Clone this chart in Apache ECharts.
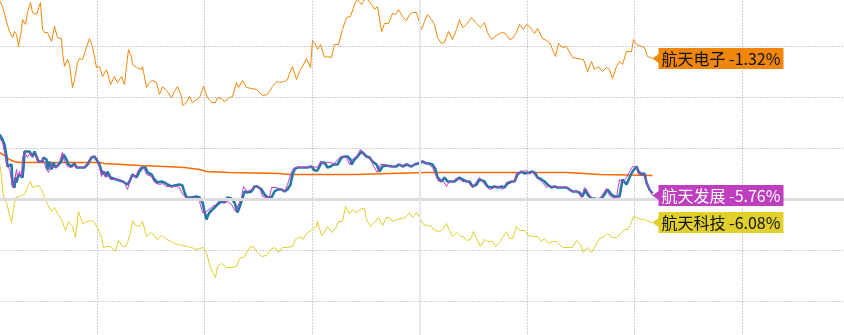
<!DOCTYPE html>
<html><head><meta charset="utf-8">
<script src="https://cdn.jsdelivr.net/npm/echarts@6/dist/echarts.min.js"></script>
<style>html,body{margin:0;padding:0;background:#fff;}#c{width:844px;height:335px;}</style>
</head><body><div id="c"></div>
<script>
// x: intraday time index (860 units per session, 8 grid slots), y: relative move (0 = prior close)
const stockNames = ['航天电子', '航天发展', '航天科技'];
const pctLabels = ['-1.32%', '-5.76%', '-6.08%'];

const dianzi = [[10,199],[13,193],[17,178],[20,168],[23,162],[25,168],[27,165],[29,153],[32,170],[33,180],[36,175],[38,187],[41,197],[43,187],[47,185],[48,187],[51,197],[53,170],[55,167],[58,167],[62,158],[65,173],[68,162],[72,161],[73,147],[75,133],[78,140],[80,135],[83,112],[85,120],[88,137],[90,141],[93,140],[97,152],[100,161],[103,153],[107,132],[110,133],[113,123],[117,130],[118,132],[121,115],[125,123],[128,117],[132,123],[135,115],[137,133],[139,150],[142,142],[143,135],[147,132],[152,130],[153,133],[157,112],[160,117],[163,119],[167,117],[170,105],[173,113],[177,109],[182,102],[185,108],[188,113],[192,103],[193,94],[197,97],[200,103],[203,97],[207,100],[210,102],[214,113],[218,102],[222,97],[226,97],[228,102],[232,101],[235,98],[240,102],[243,103],[247,117],[249,112],[253,119],[257,112],[262,111],[267,110],[273,104],[278,105],[283,113],[287,118],[290,117],[295,118],[298,120],[300,126],[303,133],[307,120],[310,128],[313,133],[317,141],[321,132],[323,159],[326,155],[328,150],[331,155],[335,142],[338,143],[342,142],[345,155],[349,155],[353,170],[357,182],[361,183],[365,195],[368,200],[372,195],[375,200],[378,200],[382,195],[385,190],[388,193],[392,168],[395,176],[399,176],[403,186],[406,185],[409,190],[413,183],[417,179],[420,185],[423,187],[427,187],[432,170],[435,178],[438,185],[442,180],[445,175],[448,162],[452,156],[455,157],[459,168],[463,160],[467,170],[470,180],[473,172],[477,175],[482,182],[487,176],[491,172],[495,177],[498,167],[502,160],[507,164],[512,167],[516,166],[520,160],[523,161],[527,167],[530,175],[534,170],[537,175],[540,173],[543,169],[545,166],[548,171],[553,161],[557,159],[560,157],[566,143],[569,156],[573,152],[577,153],[583,142],[588,141],[594,140],[598,128],[602,138],[605,130],[609,133],[613,128],[617,132],[620,130],[623,121],[627,133],[630,138],[633,135],[637,148],[642,148],[644,160],[647,155],[652,153],[655,152],[658,143],[663,141]];

const keji = [[10,37],[12,23],[13,10],[15,0],[17,-3],[20,-15],[22,-23],[24,-10],[26,2],[30,3],[35,5],[38,12],[41,18],[43,12],[46,13],[49,14],[52,10],[55,2],[58,-5],[62,-12],[65,-8],[69,-15],[72,-20],[76,-31],[79,-22],[83,-27],[86,-38],[89,-12],[93,-24],[97,-22],[102,-21],[105,-23],[108,-28],[110,-33],[112,-38],[114,-48],[117,-47],[121,-47],[123,-48],[126,-52],[129,-41],[133,-47],[136,-47],[138,-43],[141,-33],[143,-21],[146,-26],[150,-27],[153,-22],[157,-37],[162,-33],[164,-32],[168,-40],[172,-36],[175,-38],[178,-40],[183,-43],[188,-45],[193,-46],[198,-47],[202,-48],[207,-50],[210,-49],[214,-48],[217,-53],[220,-65],[223,-73],[226,-78],[228,-67],[232,-64],[237,-68],[242,-68],[247,-67],[250,-59],[255,-57],[260,-48],[264,-47],[267,-52],[272,-57],[277,-56],[281,-50],[285,-48],[289,-53],[293,-48],[297,-48],[303,-47],[306,-40],[311,-37],[313,-40],[318,-33],[323,-30],[327,-27],[328,-22],[332,-36],[335,-33],[338,-27],[342,-33],[346,-29],[349,-22],[353,-22],[356,-7],[360,-14],[363,-10],[367,-13],[372,-9],[375,-9],[377,-20],[381,-27],[385,-23],[389,-18],[393,-26],[397,-18],[400,-18],[403,-22],[407,-20],[413,-19],[417,-17],[420,-13],[423,-18],[427,-13],[430,-18],[434,-25],[438,-26],[442,-27],[445,-31],[450,-32],[453,-30],[457,-24],[460,-31],[463,-37],[467,-33],[471,-37],[474,-37],[477,-41],[481,-40],[484,-32],[487,-39],[491,-47],[495,-40],[498,-42],[503,-42],[506,-47],[510,-43],[513,-38],[517,-32],[520,-39],[523,-39],[527,-27],[530,-31],[535,-31],[539,-36],[543,-37],[548,-37],[552,-42],[555,-39],[559,-44],[563,-42],[567,-42],[573,-48],[583,-48],[587,-41],[591,-45],[594,-53],[598,-48],[602,-53],[605,-48],[610,-39],[615,-37],[618,-34],[623,-38],[627,-38],[632,-33],[635,-30],[638,-30],[641,-25],[644,-17],[647,-18],[652,-20],[655,-20],[660,-22],[663,-23]];

const mainLine = [[10,65],[13,60],[15,55],[17,43],[18,33],[20,35],[22,35],[23,15],[25,12],[26,22],[27,17],[29,25],[31,23],[33,22],[34,32],[35,48],[37,50],[40,48],[43,43],[45,48],[47,48],[49,38],[53,38],[54,42],[57,40],[58,30],[60,38],[62,30],[64,37],[66,32],[68,33],[72,38],[74,45],[77,40],[79,35],[82,33],[85,36],[87,32],[90,32],[95,32],[98,35],[102,42],[105,43],[107,40],[110,35],[113,25],[114,28],[117,23],[118,28],[121,22],[123,22],[127,20],[129,22],[133,18],[135,18],[138,15],[140,18],[143,25],[145,26],[147,22],[150,28],[153,32],[156,32],[158,27],[162,25],[165,20],[168,17],[172,18],[175,17],[178,15],[182,13],[185,14],[190,15],[193,14],[195,7],[197,2],[202,2],[207,3],[210,2],[213,-3],[215,-12],[217,-20],[218,-17],[220,-13],[223,-10],[225,-10],[228,-5],[232,-2],[235,-3],[238,2],[242,1],[245,-3],[248,-13],[252,-2],[255,8],[258,7],[262,8],[265,13],[268,13],[272,10],[275,5],[278,2],[282,2],[285,8],[288,10],[292,10],[295,8],[298,10],[301,15],[303,25],[305,30],[308,32],[312,32],[315,32],[318,32],[322,33],[325,29],[328,29],[332,37],[335,37],[338,32],[341,33],[344,35],[348,35],[352,42],[355,43],[358,43],[361,40],[362,35],[365,40],[368,43],[372,48],[374,49],[377,43],[380,42],[383,38],[387,35],[390,28],[393,33],[397,34],[402,33],[407,33],[410,35],[413,33],[417,35],[422,33],[425,35],[429,36],[433,38],[437,36],[440,36],[443,35],[446,30],[448,22],[452,18],[455,22],[458,18],[462,18],[465,18],[470,22],[473,20],[477,18],[480,18],[483,13],[487,15],[490,20],[492,22],[495,18],[498,13],[502,12],[505,13],[508,12],[512,13],[515,12],[518,16],[522,18],[525,18],[528,25],[532,28],[535,26],[537,28],[540,27],[543,28],[546,26],[548,22],[552,20],[555,18],[558,15],[562,12],[565,13],[568,12],[572,12],[577,12],[580,10],[583,8],[587,8],[590,7],[593,3],[596,10],[598,5],[602,1],[605,1],[608,0],[612,1],[615,5],[618,10],[622,5],[625,3],[627,2],[630,3],[633,20],[635,18],[637,15],[640,22],[643,28],[647,33],[649,28],[652,25],[655,26],[657,17],[660,10],[663,6]];

const fazhan = [[10,62],[13,57],[15,47],[17,35],[20,30],[22,20],[23,12],[25,18],[27,30],[28,22],[30,28],[32,23],[33,42],[35,47],[38,42],[41,47],[43,42],[46,45],[48,38],[52,37],[53,42],[57,30],[59,27],[62,35],[64,32],[67,32],[70,38],[73,47],[75,38],[78,33],[82,32],[85,35],[87,32],[93,32],[97,33],[101,42],[104,43],[107,42],[110,32],[112,23],[114,28],[116,22],[118,25],[121,20],[125,20],[128,20],[132,18],[135,17],[138,10],[141,20],[143,25],[146,22],[149,30],[152,33],[155,30],[157,25],[162,23],[165,17],[170,15],[173,16],[177,13],[182,13],[187,13],[190,12],[193,5],[197,2],[202,1],[207,2],[210,-2],[213,-13],[214,-13],[217,-12],[219,-12],[223,-7],[227,-5],[230,0],[232,2],[235,-3],[238,-2],[242,-5],[246,-12],[248,-14],[252,2],[254,13],[258,8],[262,10],[267,14],[270,12],[273,3],[277,2],[280,2],[282,12],[287,12],[292,10],[295,8],[298,15],[302,28],[305,32],[310,32],[315,32],[320,32],[323,33],[328,32],[331,38],[334,35],[337,37],[340,37],[345,36],[350,42],[353,43],[357,42],[360,35],[363,40],[367,43],[371,50],[374,46],[378,42],[382,40],[384,33],[388,27],[391,35],[395,35],[400,33],[405,33],[409,36],[412,33],[417,36],[422,33],[425,36],[429,37],[433,38],[438,36],[440,37],[443,32],[446,25],[449,18],[453,20],[455,18],[457,13],[460,18],[463,18],[468,22],[473,18],[478,18],[483,12],[487,18],[490,22],[493,18],[497,13],[500,10],[505,12],[510,12],[513,10],[517,17],[520,18],[525,18],[527,27],[530,27],[533,28],[537,29],[540,25],[543,28],[546,23],[550,20],[553,17],[557,12],[560,14],[565,12],[572,12],[577,12],[580,9],[583,8],[588,8],[592,2],[595,12],[598,8],[602,1],[607,0],[611,2],[613,5],[617,11],[620,4],[623,2],[627,2],[630,20],[633,17],[637,22],[640,28],[643,33],[647,32],[649,25],[653,27],[657,18],[660,10],[663,4]];

const avgLine = [[10,47],[15,44],[20,40],[25,38],[30,37],[110,37],[115,36],[150,34],[175,33],[195,32],[210,30],[217,28],[240,27],[290,26],[300,25],[367,25],[368,26],[435,27],[578,27],[580,26],[610,25],[612,24],[663,24]];

const labelFont = '"Noto Sans CJK SC","Noto Sans",sans-serif';
const tagPath = 'path://M0,10.5L6,6L6,0L131,0L131,21L6,21L6,15Z';

function tag(series, idx, bg, fg) {
  const last = series[series.length - 1];
  return {
    silent: true,
    animation: false,
    symbol: tagPath,
    symbolSize: [131, 21],
    symbolOffset: [65.5, 0],
    itemStyle: { color: bg },
    label: {
      show: true, position: 'inside', offset: [3, 0],
      formatter: stockNames[idx] + ' ' + pctLabels[idx],
      color: fg, fontSize: 16, fontFamily: labelFont
    },
    data: [{ coord: last }]
  };
}

const chart = echarts.init(document.getElementById('c'), null, { renderer: 'canvas' });
const dotted = { color: '#9e9e9e', width: 1, type: [1, 2] };
chart.setOption({
  animation: false,
  backgroundColor: '#ffffff',
  grid: { left: -10.5, top: -4.5, width: 860, height: 357, outerBoundsMode: 'none', containLabel: false },
  xAxis: {
    type: 'value', min: 0, max: 860, interval: 107.5,
    axisLine: { show: false }, axisTick: { show: false }, axisLabel: { show: false },
    splitLine: { show: true, lineStyle: dotted }
  },
  yAxis: {
    type: 'value', min: -153, max: 204, interval: 51,
    axisLine: { show: false }, axisTick: { show: false }, axisLabel: { show: false },
    splitLine: { show: true, lineStyle: dotted }
  },
  series: [
    {
      type: 'line', name: stockNames[2], data: keji, z: 1, showSymbol: false, symbol: 'none',
      lineStyle: { color: '#e0cf2c', width: 1 },
      markLine: {
        silent: true, symbol: ['none', 'none'], animation: false, label: { show: false },
        data: [
          { yAxis: 0, lineStyle: { color: '#dcdcdc', width: 3, type: 'solid' } },
          { xAxis: 430, lineStyle: { color: '#e6e6e6', width: 2, type: 'solid' } }
        ]
      },
      markPoint: tag(keji, 2, '#e0cf2c', '#111111')
    },
    {
      type: 'line', name: stockNames[0], data: dianzi, z: 2, showSymbol: false, symbol: 'none',
      lineStyle: { color: '#f0890c', width: 1 },
      markPoint: tag(dianzi, 0, '#f0870c', '#111111')
    },
    {
      type: 'line', name: 'avg', data: avgLine, z: 2, showSymbol: false, symbol: 'none',
      lineStyle: { color: '#ff6a00', width: 1.5 }
    },
    {
      type: 'line', name: 'main', data: mainLine, z: 3, showSymbol: false, symbol: 'none',
      lineStyle: { color: '#2378a8', width: 2.6 }
    },
    {
      type: 'line', name: stockNames[1], data: fazhan, z: 4, showSymbol: false, symbol: 'none',
      lineStyle: { color: '#c23ec2', width: 1 },
      markPoint: tag(fazhan, 1, '#bf3dbf', '#ffffff')
    }
  ]
});
</script>
</body></html>
